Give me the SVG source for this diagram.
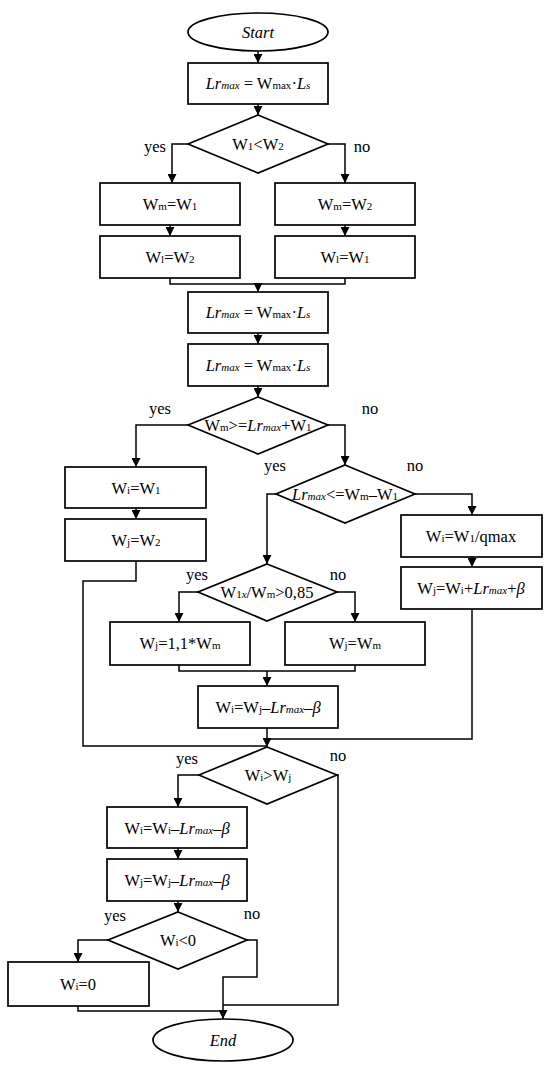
<svg xmlns="http://www.w3.org/2000/svg" width="550" height="1068" viewBox="0 0 550 1068">
<defs>
<style>
.n{fill:#fff;stroke:#000;stroke-width:1.7}
.c{fill:none;stroke:#000;stroke-width:1.5}
text{font-family:"Liberation Serif","Times New Roman",serif;font-size:16.5px;fill:#000;text-anchor:middle}
.i{font-style:italic}
.s{font-size:11px}
.si{font-size:11px;font-style:italic}
</style>
<marker id="a" markerUnits="userSpaceOnUse" markerWidth="9" markerHeight="9" refX="10" refY="5" viewBox="0 0 10 10" orient="auto">
<path d="M0,0 L10,5 L0,10 z" fill="#000"/>
</marker>
</defs>
<rect width="550" height="1068" fill="#fff"/>
<g id="connectors">
<path class="c" d="M258,51 V63" marker-end="url(#a)"/>
<path class="c" d="M258,104 V115" marker-end="url(#a)"/>
<path class="c" d="M188,144 H172 V183" marker-end="url(#a)"/>
<path class="c" d="M328,144 H345 V183" marker-end="url(#a)"/>
<path class="c" d="M170,225 V236" marker-end="url(#a)"/>
<path class="c" d="M345,225 V236" marker-end="url(#a)"/>
<path class="c" d="M170,278 V284 H345 V278"/>
<path class="c" d="M258,284 V292" marker-end="url(#a)"/>
<path class="c" d="M258,333 V344" marker-end="url(#a)"/>
<path class="c" d="M258,386 V397" marker-end="url(#a)"/>
<path class="c" d="M188,425 H136 V467" marker-end="url(#a)"/>
<path class="c" d="M328,425 H345 V465" marker-end="url(#a)"/>
<path class="c" d="M136,508 V519" marker-end="url(#a)"/>
<path class="c" d="M136,561 V581 H83 V746 H267"/>
<path class="c" d="M276,494 H267 V564" marker-end="url(#a)"/>
<path class="c" d="M415,494 H472 V515" marker-end="url(#a)"/>
<path class="c" d="M472,557 V567" marker-end="url(#a)"/>
<path class="c" d="M472,609 V739 H267"/>
<path class="c" d="M198,592 H179 V622" marker-end="url(#a)"/>
<path class="c" d="M337,592 H355 V622" marker-end="url(#a)"/>
<path class="c" d="M179,665 V671 H355 V665"/>
<path class="c" d="M267,671 V686" marker-end="url(#a)"/>
<path class="c" d="M267,728 V747" marker-end="url(#a)"/>
<path class="c" d="M199,775 H178 V807" marker-end="url(#a)"/>
<path class="c" d="M337,775 H338 V1005 H223"/>
<path class="c" d="M178,848 V859" marker-end="url(#a)"/>
<path class="c" d="M178,901 V912" marker-end="url(#a)"/>
<path class="c" d="M108,940 H78 V962" marker-end="url(#a)"/>
<path class="c" d="M247,940 H257 V977 H223 V1019" marker-end="url(#a)"/>
<path class="c" d="M78,1006 V1011 H223"/>
<text x="155" y="152">yes</text>
<text x="362" y="152">no</text>
<text x="160" y="414">yes</text>
<text x="370" y="414">no</text>
<text x="275" y="471">yes</text>
<text x="415" y="471">no</text>
<text x="197" y="580">yes</text>
<text x="338" y="580">no</text>
<text x="187" y="764">yes</text>
<text x="338" y="761">no</text>
<text x="115" y="921">yes</text>
<text x="252" y="919">no</text>
</g>
<g id="start">
<ellipse class="n" cx="258" cy="32" rx="70" ry="19"/>
<text class="i" x="258" y="38">Start</text>
</g>
<g id="lr1">
<rect class="n" x="188" y="63" width="140" height="41"/>
<text x="258" y="89"><tspan class="i">Lr</tspan><tspan class="si">max</tspan> = W<tspan class="s">max</tspan>·<tspan class="i">L</tspan><tspan class="si">s</tspan></text>
</g>
<g id="d1">
<polygon class="n" points="258,115 328,144 258,173 188,144"/>
<text x="258" y="150">W<tspan class="s">1</tspan>&lt;W<tspan class="s">2</tspan></text>
</g>
<g id="wm1">
<rect class="n" x="100" y="183" width="140" height="42"/>
<text x="170" y="210">W<tspan class="s">m</tspan>=W<tspan class="s">1</tspan></text>
</g>
<g id="wl2">
<rect class="n" x="100" y="236" width="140" height="42"/>
<text x="170" y="263">W<tspan class="s">l</tspan>=W<tspan class="s">2</tspan></text>
</g>
<g id="wm2">
<rect class="n" x="275" y="183" width="140" height="42"/>
<text x="345" y="210">W<tspan class="s">m</tspan>=W<tspan class="s">2</tspan></text>
</g>
<g id="wl1">
<rect class="n" x="275" y="236" width="140" height="42"/>
<text x="345" y="263">W<tspan class="s">l</tspan>=W<tspan class="s">1</tspan></text>
</g>
<g id="lr2">
<rect class="n" x="188" y="292" width="140" height="41"/>
<text x="258" y="318"><tspan class="i">Lr</tspan><tspan class="si">max</tspan> = W<tspan class="s">max</tspan>·<tspan class="i">L</tspan><tspan class="si">s</tspan></text>
</g>
<g id="lr3">
<rect class="n" x="188" y="344" width="140" height="42"/>
<text x="258" y="371"><tspan class="i">Lr</tspan><tspan class="si">max</tspan> = W<tspan class="s">max</tspan>·<tspan class="i">L</tspan><tspan class="si">s</tspan></text>
</g>
<g id="d2">
<polygon class="n" points="258,397 328,425 258,454 188,425"/>
<text x="258" y="431">W<tspan class="s">m</tspan>&gt;=<tspan class="i">Lr</tspan><tspan class="si">max</tspan>+W<tspan class="s">1</tspan></text>
</g>
<g id="wi1">
<rect class="n" x="65" y="467" width="141" height="41"/>
<text x="136" y="494">W<tspan class="s">i</tspan>=W<tspan class="s">1</tspan></text>
</g>
<g id="wj2">
<rect class="n" x="65" y="519" width="141" height="42"/>
<text x="136" y="546">W<tspan class="s">j</tspan>=W<tspan class="s">2</tspan></text>
</g>
<g id="d3">
<polygon class="n" points="345,465 415,494 345,523 276,494"/>
<text x="345" y="500"><tspan class="i">Lr</tspan><tspan class="si">max</tspan>&lt;=W<tspan class="s">m</tspan>–W<tspan class="s">1</tspan></text>
</g>
<g id="wiq">
<rect class="n" x="401" y="515" width="141" height="42"/>
<text x="471" y="542">W<tspan class="s">i</tspan>=W<tspan class="s">1</tspan>/qmax</text>
</g>
<g id="wjp">
<rect class="n" x="401" y="567" width="141" height="42"/>
<text x="471" y="594">W<tspan class="s">j</tspan>=W<tspan class="s">i</tspan>+<tspan class="i">Lr</tspan><tspan class="si">max</tspan>+<tspan class="i">β</tspan></text>
</g>
<g id="d4">
<polygon class="n" points="267,564 337,592 267,621 198,592"/>
<text x="267" y="598">W<tspan class="s">1</tspan><tspan class="si">x</tspan>/W<tspan class="s">m</tspan>&gt;0,85</text>
</g>
<g id="wj11">
<rect class="n" x="110" y="622" width="140" height="43"/>
<text x="180" y="649">W<tspan class="s">j</tspan>=1,1*W<tspan class="s">m</tspan></text>
</g>
<g id="wjm">
<rect class="n" x="285" y="622" width="140" height="43"/>
<text x="355" y="649">W<tspan class="s">j</tspan>=W<tspan class="s">m</tspan></text>
</g>
<g id="wij">
<rect class="n" x="198" y="686" width="140" height="42"/>
<text x="268" y="713">W<tspan class="s">i</tspan>=W<tspan class="s">j</tspan>–<tspan class="i">Lr</tspan><tspan class="si">max</tspan>–<tspan class="i">β</tspan></text>
</g>
<g id="d5">
<polygon class="n" points="267,747 337,775 267,804 199,775"/>
<text x="268" y="781">W<tspan class="s">i</tspan>&gt;W<tspan class="s">j</tspan></text>
</g>
<g id="wii">
<rect class="n" x="107" y="807" width="140" height="41"/>
<text x="177" y="834">W<tspan class="s">i</tspan>=W<tspan class="s">i</tspan>–<tspan class="i">Lr</tspan><tspan class="si">max</tspan>–<tspan class="i">β</tspan></text>
</g>
<g id="wjj">
<rect class="n" x="107" y="859" width="140" height="42"/>
<text x="177" y="886">W<tspan class="s">j</tspan>=W<tspan class="s">j</tspan>–<tspan class="i">Lr</tspan><tspan class="si">max</tspan>–<tspan class="i">β</tspan></text>
</g>
<g id="d6">
<polygon class="n" points="178,912 247,940 178,969 108,940"/>
<text x="178" y="946">W<tspan class="s">i</tspan>&lt;0</text>
</g>
<g id="wi0">
<rect class="n" x="8" y="962" width="141" height="44"/>
<text x="78" y="990">W<tspan class="s">i</tspan>=0</text>
</g>
<g id="end">
<ellipse class="n" cx="223" cy="1040" rx="70" ry="21"/>
<text class="i" x="223" y="1046">End</text>
</g>
</svg>
